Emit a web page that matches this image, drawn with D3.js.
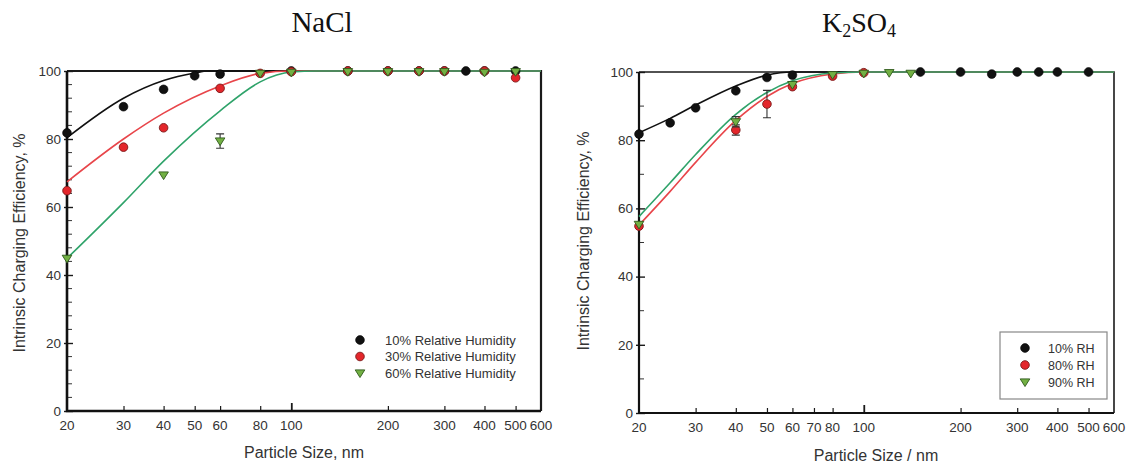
<!DOCTYPE html>
<html>
<head>
<meta charset="utf-8">
<script src="https://cdn.jsdelivr.net/npm/d3@7"></script>
<style>
  html, body { margin: 0; padding: 0; background: #fff; }
  svg { display: block; }
  text { font-family: "Liberation Sans", Arial, sans-serif; fill: #333; }
</style>
</head>
<body>
<svg id="chart" width="1130" height="465"></svg>
<script>
// ---------- NaCl measurements ----------
const naclRh10Size = [20, 30, 40, 50, 60, 100, 150, 200, 250, 300, 350, 400, 500];
const naclRh10Val  = [81.8, 89.5, 94.6, 98.6, 99.1, 100, 100, 100, 100, 100, 100, 100, 100];
const naclRh30Size = [20, 30, 40, 60, 80, 100, 150, 200, 250, 300, 400, 500];
const naclRh30Val  = [64.8, 77.6, 83.3, 94.9, 99.3, 99.8, 100, 100, 100, 100, 100, 98];
const naclRh60Size = [20, 40, 60, 80, 100, 150, 200, 250, 300, 400, 500];
const naclRh60Val  = [44.9, 69.4, 79.4, 99.3, 99.6, 99.8, 99.8, 99.8, 99.8, 99.6, 99.8];
const naclRh60Err  = [0, 0, 2.1, 0, 0, 0, 0, 0, 0, 0, 0];

// NaCl model curves
const naclFit10Size = [20, 30, 40, 50, 55, 600];
const naclFit10Val  = [80.4, 92.0, 97.2, 99.4, 100, 100];
const naclFit30Size = [20, 30, 40, 60, 80, 100, 600];
const naclFit30Val  = [67.4, 80.0, 87.6, 95.6, 99.3, 100, 100];
const naclFit60Size = [20, 30, 40, 60, 80, 90, 100, 120, 600];
const naclFit60Val  = [44.9, 61.3, 73.5, 88.3, 96.8, 98.8, 99.7, 100, 100];

// ---------- K2SO4 measurements ----------
const kRh10Size = [20, 25, 30, 40, 50, 60, 150, 200, 250, 300, 350, 400, 500];
const kRh10Val  = [81.8, 85.1, 89.5, 94.5, 98.4, 99.1, 100, 100, 99.4, 100, 100, 100, 100];
const kRh80Size = [20, 40, 50, 60, 80, 100];
const kRh80Val  = [54.8, 83.0, 90.6, 95.7, 98.8, 99.8];
const kRh80Err  = [0, 1.5, 4.0, 0, 0, 0];
const kRh90Size = [20, 40, 60, 80, 100, 120, 140];
const kRh90Val  = [55.3, 85.4, 96.3, 99.2, 99.6, 99.8, 99.6];
const kRh90Err  = [0, 1.5, 0, 0, 0, 0, 0];

// K2SO4 model curves
const kFit10Size = [20, 25, 30, 40, 50, 60, 600];
const kFit10Val  = [82.2, 86.4, 90.3, 95.9, 99.1, 100, 100];
const kFit80Size = [20, 25, 30, 40, 50, 60, 80, 100, 600];
const kFit80Val  = [55.1, 65.0, 73.5, 85.8, 92.8, 96.6, 99.4, 100, 100];
const kFit90Size = [20, 25, 30, 40, 50, 60, 80, 100, 600];
const kFit90Val  = [57.6, 67.5, 75.8, 87.6, 94.0, 97.4, 99.7, 100, 100];

// ---------- axis ticks ----------
const naclXTicks = [20, 30, 40, 50, 60, 80, 100, 200, 300, 400, 500, 600];
const kXTicks    = [20, 30, 40, 50, 60, 70, 80, 100, 200, 300, 400, 500, 600];
const yMajor     = [0, 20, 40, 60, 80, 100];
const naclYMinor = [4, 8, 12, 16, 24, 28, 32, 36, 44, 48, 52, 56, 64, 68, 72, 76, 84, 88, 92, 96];
const kYMinor    = [10, 30, 50, 70, 90];

const naclLegend = ["10% Relative Humidity", "30% Relative Humidity", "60% Relative Humidity"];
const kLegend    = ["10% RH", "80% RH", "90% RH"];

const COL_BLACK = "#111";
const COL_RED = "#e3262b";
const COL_GREEN_FILL = "#72b043";
const COL_GREEN_LINE = "#2fa36a";
const COL_RED_LINE = "#e8454a";

const svg = d3.select("#chart");

function zip(sizes, vals, errs) {
  return sizes.map((d, i) => ({ d, v: vals[i], e: errs ? errs[i] : 0 }));
}

function drawMarker(g, type, x, y) {
  if (type === "circle") {
    g.append("circle").attr("cx", x).attr("cy", y).attr("r", 4.4)
      .attr("fill", COL_BLACK).attr("stroke", "#000").attr("stroke-width", 0.6);
  } else if (type === "red") {
    g.append("circle").attr("cx", x).attr("cy", y).attr("r", 4.3)
      .attr("fill", COL_RED).attr("stroke", "#7a1a1a").attr("stroke-width", 0.9);
  } else {
    const s = 4.8;
    g.append("path")
      .attr("d", `M${x - s},${y - s * 0.65}L${x + s},${y - s * 0.65}L${x},${y + s * 0.95}Z`)
      .attr("fill", COL_GREEN_FILL).attr("stroke", "#2f5a1c").attr("stroke-width", 0.9)
      .attr("stroke-linejoin", "round");
  }
}

function panel(cfg) {
  const x = d3.scaleLog().domain([20, 600]).range([cfg.x0, cfg.x1]);
  const y = d3.scaleLinear().domain([0, 100]).range([cfg.y0, cfg.y1]);
  const g = svg.append("g");

  // frame: top and right borders
  g.append("path")
    .attr("d", `M${cfg.x0},${cfg.y1}H${cfg.x1}V${cfg.y0}`)
    .attr("fill", "none").attr("stroke", "#1a1a1a").attr("stroke-width", cfg.frameW);

  // x axis: inward ticks and labels
  const xAxis = d3.axisBottom(x).tickValues(cfg.xTicks.filter(t => t > 20 && t < 600))
    .tickSize(0).tickFormat("");
  const gx = g.append("g").attr("transform", `translate(0,${cfg.y0})`).call(xAxis);
  gx.select(".domain").remove();
  gx.selectAll(".tick line").remove();
  gx.selectAll(".tick").append("line")
    .attr("y1", 0).attr("y2", d => d === 100 ? -8 : -5)
    .attr("stroke", "#1a1a1a").attr("stroke-width", d => d === 100 ? 1.8 : 1.2);
  cfg.xTicks.forEach(t => {
    g.append("text").attr("x", x(t)).attr("y", cfg.y0 + 19)
      .attr("text-anchor", "middle").attr("font-size", 13.5).text(t);
  });

  // y axis
  const yAxis = d3.axisLeft(y).tickValues(yMajor).tickSize(0).tickPadding(6);
  const gy = g.append("g").attr("transform", `translate(${cfg.x0},0)`).call(yAxis);
  gy.select(".domain").remove();
  gy.selectAll(".tick text").attr("font-size", 13.5).attr("fill", "#333")
    .attr("font-family", "Liberation Sans, Arial, sans-serif");
  gy.selectAll(".tick").append("line").attr("x1", -3).attr("x2", 6)
    .attr("stroke", "#1a1a1a").attr("stroke-width", 1.4);
  cfg.yMinor.forEach(t => {
    g.append("line").attr("x1", cfg.x0).attr("x2", cfg.x0 + 5)
      .attr("y1", y(t)).attr("y2", y(t))
      .attr("stroke", "#333").attr("stroke-width", 1);
  });

  // left and bottom axis lines
  g.append("path")
    .attr("d", `M${cfg.x0},${cfg.y1}V${cfg.y0}H${cfg.x1}`)
    .attr("fill", "none").attr("stroke", "#111").attr("stroke-width", cfg.axisW);

  // model curves
  const line = d3.line().x(p => x(p.d)).y(p => y(p.v)).curve(d3.curveMonotoneX);
  cfg.fits.forEach(f => {
    g.append("path").datum(zip(f.size, f.val))
      .attr("d", line).attr("fill", "none")
      .attr("stroke", f.color).attr("stroke-width", 1.6);
  });

  // measured points with error bars
  cfg.series.forEach(s => {
    const pts = zip(s.size, s.val, s.err);
    pts.forEach(p => {
      if (p.e > 0) {
        const px = x(p.d);
        g.append("path")
          .attr("d", `M${px},${y(p.v + p.e)}V${y(p.v - p.e)}M${px - 4},${y(p.v + p.e)}H${px + 4}M${px - 4},${y(p.v - p.e)}H${px + 4}`)
          .attr("stroke", "#333").attr("stroke-width", 1.1).attr("fill", "none");
      }
      drawMarker(g, s.marker, x(p.d), y(p.v));
    });
  });

  // legend
  const L = cfg.legend;
  if (L.box) {
    g.append("rect").attr("x", L.box[0]).attr("y", L.box[1])
      .attr("width", L.box[2]).attr("height", L.box[3])
      .attr("fill", "#fff").attr("stroke", "#888").attr("stroke-width", 1.2);
  }
  L.labels.forEach((lab, i) => {
    const yy = L.y + i * L.dy;
    drawMarker(g, cfg.series[i].marker, L.mx, yy);
    g.append("text").attr("x", L.tx).attr("y", yy + 4.6)
      .attr("font-size", L.fs).text(lab);
  });

  // axis titles
  g.append("text").attr("x", cfg.xTitlePos[0]).attr("y", cfg.xTitlePos[1])
    .attr("text-anchor", "middle").attr("font-size", 16).text(cfg.xTitle);
  g.append("text")
    .attr("transform", `translate(${cfg.yTitlePos[0]},${cfg.yTitlePos[1]}) rotate(-90)`)
    .attr("text-anchor", "middle").attr("font-size", 16)
    .text("Intrinsic Charging Efficiency, %");
}

panel({
  x0: 67, x1: 541, y0: 411, y1: 71, frameW: 2.2, axisW: 2.6,
  xTicks: naclXTicks, yMinor: naclYMinor,
  fits: [
    { size: naclFit10Size, val: naclFit10Val, color: COL_BLACK },
    { size: naclFit30Size, val: naclFit30Val, color: COL_RED_LINE },
    { size: naclFit60Size, val: naclFit60Val, color: COL_GREEN_LINE }
  ],
  series: [
    { size: naclRh10Size, val: naclRh10Val, marker: "circle" },
    { size: naclRh30Size, val: naclRh30Val, marker: "red" },
    { size: naclRh60Size, val: naclRh60Val, err: naclRh60Err, marker: "tri" }
  ],
  legend: { labels: naclLegend, mx: 360, tx: 385, y: 340, dy: 16.5, fs: 13 },
  xTitle: "Particle Size, nm", xTitlePos: [304, 458],
  yTitlePos: [25, 243]
});

panel({
  x0: 639, x1: 1114, y0: 413, y1: 72, frameW: 1.6, axisW: 2.2,
  xTicks: kXTicks, yMinor: kYMinor,
  fits: [
    { size: kFit10Size, val: kFit10Val, color: COL_BLACK },
    { size: kFit80Size, val: kFit80Val, color: COL_RED_LINE },
    { size: kFit90Size, val: kFit90Val, color: COL_GREEN_LINE }
  ],
  series: [
    { size: kRh10Size, val: kRh10Val, marker: "circle" },
    { size: kRh80Size, val: kRh80Val, err: kRh80Err, marker: "red" },
    { size: kRh90Size, val: kRh90Val, err: kRh90Err, marker: "tri" }
  ],
  legend: { labels: kLegend, mx: 1025, tx: 1048, y: 348, dy: 17, fs: 12.5, box: [1000, 332, 107, 67] },
  xTitle: "Particle Size / nm", xTitlePos: [876, 461],
  yTitlePos: [589, 241]
});

// panel titles
svg.append("text").attr("x", 322).attr("y", 32).attr("text-anchor", "middle")
  .style("font-family", "'Liberation Serif', 'Times New Roman', serif")
  .style("fill", "#111").attr("font-size", 29).text("NaCl");

const kt = svg.append("text").attr("x", 859).attr("y", 32).attr("text-anchor", "middle")
  .style("font-family", "'Liberation Serif', 'Times New Roman', serif")
  .style("fill", "#111").attr("font-size", 28);
kt.append("tspan").text("K");
kt.append("tspan").attr("font-size", 18).attr("dy", 5).text("2");
kt.append("tspan").attr("dy", -5).text("SO");
kt.append("tspan").attr("font-size", 18).attr("dy", 5).text("4");
</script>
</body>
</html>
